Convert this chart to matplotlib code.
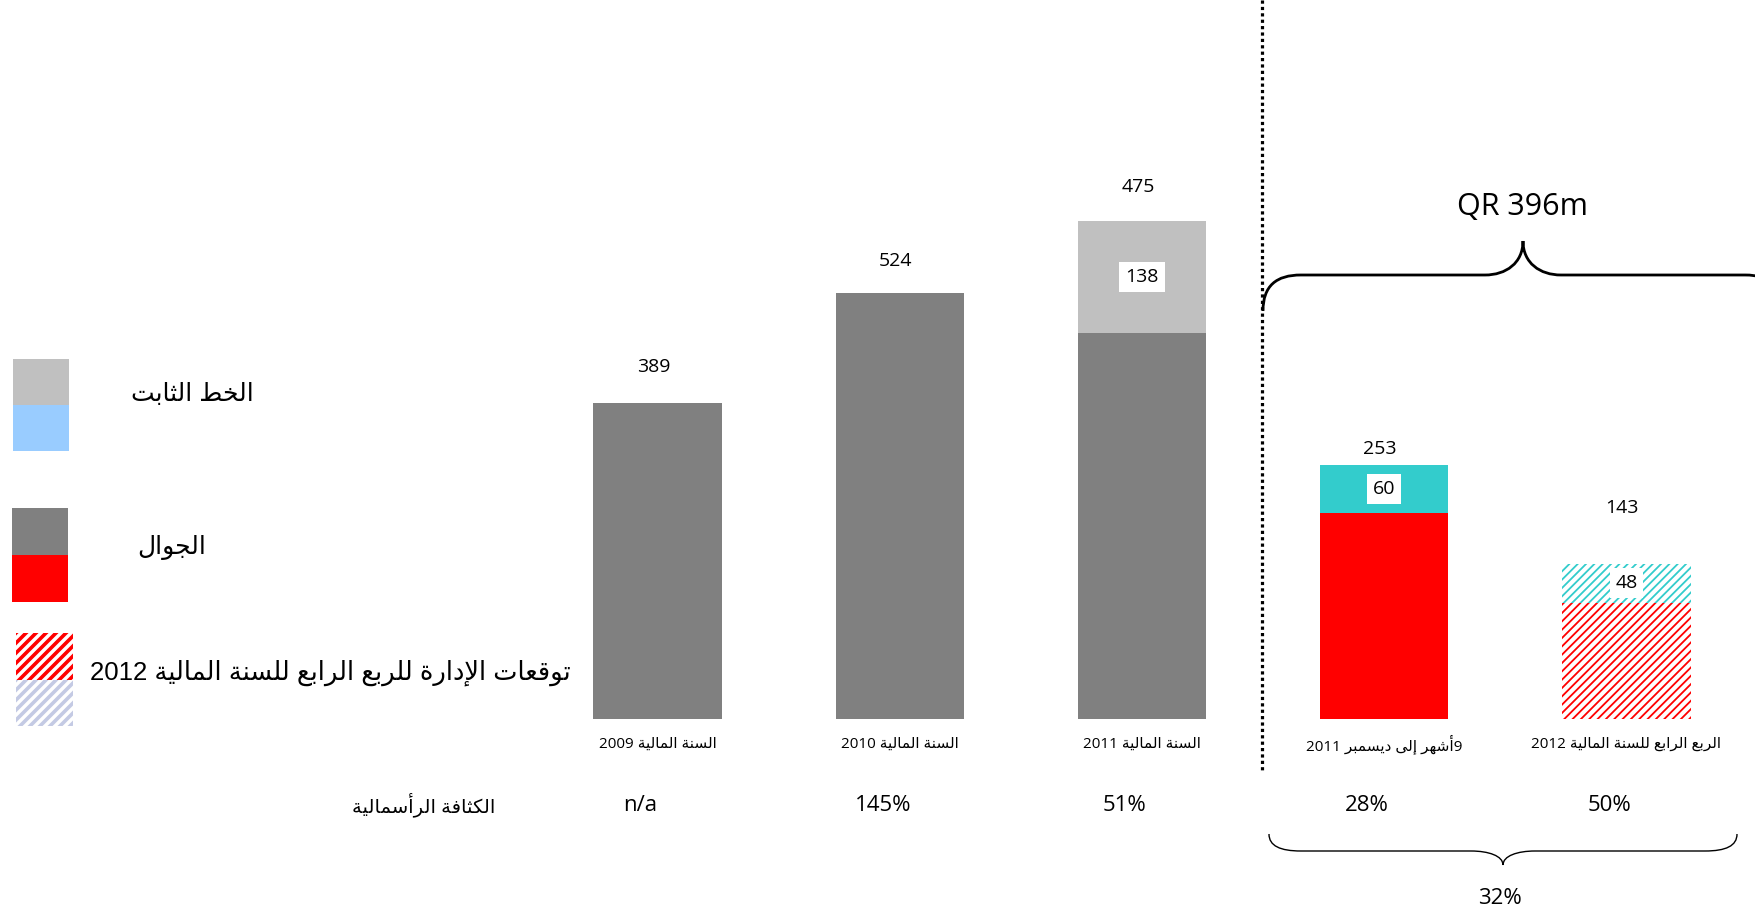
import re
import numpy as np
import matplotlib
matplotlib.use("Agg")
import matplotlib.pyplot as plt
from matplotlib.patches import Rectangle, PathPatch
from matplotlib.path import Path

# donnees du graphique
categories = ["السنة المالية 2009", "السنة المالية 2010", "السنة المالية 2011",
              "9أشهر إلى ديسمبر 2011", "الربع الرابع للسنة المالية 2012"]
mobile = [389, 524, 475, 253, 143]
fixed = [0, 0, 138, 60, 48]
capex_intensity = ["n/a", "145%", "51%", "28%", "50%"]
capex_title = "الكثافة الرأسمالية"
total_outlook = "QR 396m"
total_intensity = "32%"
legend_labels = ["الخط الثابت", "الجوال", "توقعات الإدارة للربع الرابع للسنة المالية 2012"]

# mise en forme de l'arabe (formes contextuelles + ordre visuel)
FORMS = {
    'ا': ('\ufe8d', '\ufe8e', None, None), 'أ': ('\ufe83', '\ufe84', None, None),
    'إ': ('\ufe87', '\ufe88', None, None), 'آ': ('\ufe81', '\ufe82', None, None),
    'ب': ('\ufe8f', '\ufe90', '\ufe91', '\ufe92'), 'ة': ('\ufe93', '\ufe94', None, None),
    'ت': ('\ufe95', '\ufe96', '\ufe97', '\ufe98'), 'ث': ('\ufe99', '\ufe9a', '\ufe9b', '\ufe9c'),
    'ج': ('\ufe9d', '\ufe9e', '\ufe9f', '\ufea0'), 'ح': ('\ufea1', '\ufea2', '\ufea3', '\ufea4'),
    'خ': ('\ufea5', '\ufea6', '\ufea7', '\ufea8'), 'د': ('\ufea9', '\ufeaa', None, None),
    'ذ': ('\ufeab', '\ufeac', None, None), 'ر': ('\ufead', '\ufeae', None, None),
    'ز': ('\ufeaf', '\ufeb0', None, None), 'س': ('\ufeb1', '\ufeb2', '\ufeb3', '\ufeb4'),
    'ش': ('\ufeb5', '\ufeb6', '\ufeb7', '\ufeb8'), 'ط': ('\ufec1', '\ufec2', '\ufec3', '\ufec4'),
    'ع': ('\ufec9', '\ufeca', '\ufecb', '\ufecc'), 'ف': ('\ufed1', '\ufed2', '\ufed3', '\ufed4'),
    'ق': ('\ufed5', '\ufed6', '\ufed7', '\ufed8'), 'ك': ('\ufed9', '\ufeda', '\ufedb', '\ufedc'),
    'ل': ('\ufedd', '\ufede', '\ufedf', '\ufee0'), 'م': ('\ufee1', '\ufee2', '\ufee3', '\ufee4'),
    'ن': ('\ufee5', '\ufee6', '\ufee7', '\ufee8'), 'ه': ('\ufee9', '\ufeea', '\ufeeb', '\ufeec'),
    'و': ('\ufeed', '\ufeee', None, None), 'ى': ('\ufeef', '\ufef0', None, None),
    'ي': ('\ufef1', '\ufef2', '\ufef3', '\ufef4'),
}
LAMALEF = {'آ': ('\ufef5', '\ufef6'), 'أ': ('\ufef7', '\ufef8'),
           'إ': ('\ufef9', '\ufefa'), 'ا': ('\ufefb', '\ufefc')}


def shape(txt):
    out = []
    i = 0
    n = len(txt)
    while i < n:
        c = txt[i]
        if c not in FORMS:
            out.append(c)
            i += 1
            continue
        prev = i > 0 and txt[i-1] in FORMS and FORMS[txt[i-1]][2] is not None
        if c == 'ل' and i + 1 < n and txt[i+1] in LAMALEF:
            iso, fin = LAMALEF[txt[i+1]]
            out.append(fin if prev else iso)
            i += 2
            continue
        f = FORMS[c]
        nxt = f[2] is not None and i + 1 < n and txt[i+1] in FORMS
        if prev and nxt:
            out.append(f[3])
        elif prev:
            out.append(f[1])
        elif nxt:
            out.append(f[2])
        else:
            out.append(f[0])
        i += 1
    return ''.join(out)


def ar(txt):
    s = shape(txt)
    runs = re.findall(r'[0-9A-Za-z%/.]+|[^0-9A-Za-z%/.]+', s)
    return ''.join(r if re.match(r'[0-9A-Za-z]', r) else r[::-1] for r in reversed(runs))


W, H = 1756, 913
fig = plt.figure(figsize=(W/100, H/100), dpi=100)
fig.patch.set_facecolor("white")

# axe des barres
ax = fig.add_axes([0, 0, 1, 1])
pitch = 242.25
ax.set_xlim(-657.5/pitch, (W-657.5)/pitch)
scale = 0.8125
ax.set_ylim(-(H-719)/scale, 719/scale)
ax.axis("off")

# calque en pixels pour les annotations
ov = fig.add_axes([0, 0, 1, 1], zorder=5)
ov.set_xlim(0, W)
ov.set_ylim(H, 0)
ov.axis("off")
ov.patch.set_alpha(0)

plt.rcParams['hatch.linewidth'] = 1.3
x = np.arange(len(categories))
bw = 0.53
low_colors = ["#808080", "#808080", "#808080", "#FF0000", "white"]
top_colors = ["#C0C0C0", "#C0C0C0", "#C0C0C0", "#33CCCC", "white"]
num_font = ["Open Sans", "DejaVu Sans"]

for i in range(len(x)):
    if i == 4:
        ax.bar(x[i], mobile[i], bw, color="white", edgecolor="#FF0000", hatch="////", linewidth=0)
        ax.bar(x[i], fixed[i], bw, bottom=mobile[i], color="white", edgecolor="#33CCCC",
               hatch="////", linewidth=0)
    else:
        ax.bar(x[i], mobile[i], bw, color=low_colors[i], linewidth=0)
        if fixed[i] > 0:
            ax.bar(x[i], fixed[i], bw, bottom=mobile[i], color=top_colors[i], linewidth=0)

# etiquettes de valeurs
lab_off = [36, 32, 34, 16, 56]
for i in range(len(x)):
    top = mobile[i] + fixed[i]
    ax.annotate(str(mobile[i]), (x[i], top), xytext=(-3, lab_off[i]*0.72), textcoords="offset points",
                ha="center", va="center", fontsize=14, family=num_font)
    if fixed[i] > 0:
        ax.text(x[i], mobile[i] + fixed[i]/2, str(fixed[i]), ha="center", va="center",
                fontsize=14, family=num_font,
                bbox=dict(boxstyle="square,pad=0.3", fc="white", ec="none"))
    # categories
    ax.annotate(ar(categories[i]), (x[i], 0), xytext=(0, -25*0.72), textcoords="offset points",
                ha="center", va="center", fontsize=11, family=num_font)
    ax.annotate(capex_intensity[i], (x[i], 0), xytext=(-17*0.72, -86*0.72), textcoords="offset points",
                ha="center", va="center", fontsize=16, family=num_font)

ov.text(495, 805, ar(capex_title), ha="right", va="center", fontsize=14, family=num_font)

# ligne pointillee de separation
ov.plot([1262, 1262], [0, 773], color="black", lw=2.3, linestyle=(0, (1, 1)), solid_capstyle="butt")


def brace(x0, x1, yend, yline, ytip, r):
    xc = (x0 + x1) / 2
    d = ytip - yline
    verts = [(x0, yend), (x0, yend + (yline-yend)*0.7), (x0 + r*0.35, yline), (x0 + r, yline),
             (xc - r, yline), (xc - r*0.45, yline), (xc, yline + d*0.35), (xc, ytip),
             (xc, yline + d*0.35), (xc + r*0.45, yline), (xc + r, yline),
             (x1 - r, yline), (x1 - r*0.35, yline), (x1, yend + (yline-yend)*0.7), (x1, yend)]
    codes = [Path.MOVETO, Path.CURVE4, Path.CURVE4, Path.CURVE4,
             Path.LINETO, Path.CURVE4, Path.CURVE4, Path.CURVE4,
             Path.CURVE4, Path.CURVE4, Path.CURVE4,
             Path.LINETO, Path.CURVE4, Path.CURVE4, Path.CURVE4]
    return Path(verts, codes)


ov.add_patch(PathPatch(brace(1263, 1783, 311, 275, 241, 38), fc="none", ec="black", lw=2))
ov.add_patch(PathPatch(brace(1269, 1737, 834, 851, 865, 32), fc="none", ec="black", lw=1))
ov.text(1523, 207, total_outlook, ha="center", va="center", fontsize=22, family=num_font)
ov.text(1500, 898, total_intensity, ha="center", va="center", fontsize=16, family=num_font)

# legende
ov.add_patch(Rectangle((13, 359), 56, 46, fc="#C0C0C0", ec="none"))
ov.add_patch(Rectangle((13, 405), 56, 46, fc="#99CCFF", ec="none"))
ov.add_patch(Rectangle((12, 508), 56, 47, fc="#808080", ec="none"))
ov.add_patch(Rectangle((12, 555), 56, 47, fc="#FF0000", ec="none"))


def stripes(x0, y0, w, h, col):
    clip = Rectangle((x0, y0), w, h, fc="white", ec="none")
    ov.add_patch(clip)
    for c in np.arange(x0 + y0 - 10, x0 + w + y0 + h + 20, 10):
        ln, = ov.plot([c - y0 - h - 5, c - y0 + 5], [y0 + h + 5, y0 - 5], color=col, lw=2.6)
        ln.set_clip_path(clip)


stripes(16, 633, 57, 47, "#FF0000")
stripes(16, 680, 57, 46, "#C4CAE4")

leg_font = ["Liberation Sans", "DejaVu Sans"]
ov.text(192, 394, ar(legend_labels[0]), ha="center", va="center", fontsize=18, family=leg_font)
ov.text(172, 547, ar(legend_labels[1]), ha="center", va="center", fontsize=18, family=leg_font)
ov.text(571, 673, ar(legend_labels[2]), ha="right", va="center", fontsize=18.5, family=leg_font)

fig.savefig("out.png", dpi=100, facecolor="white")
